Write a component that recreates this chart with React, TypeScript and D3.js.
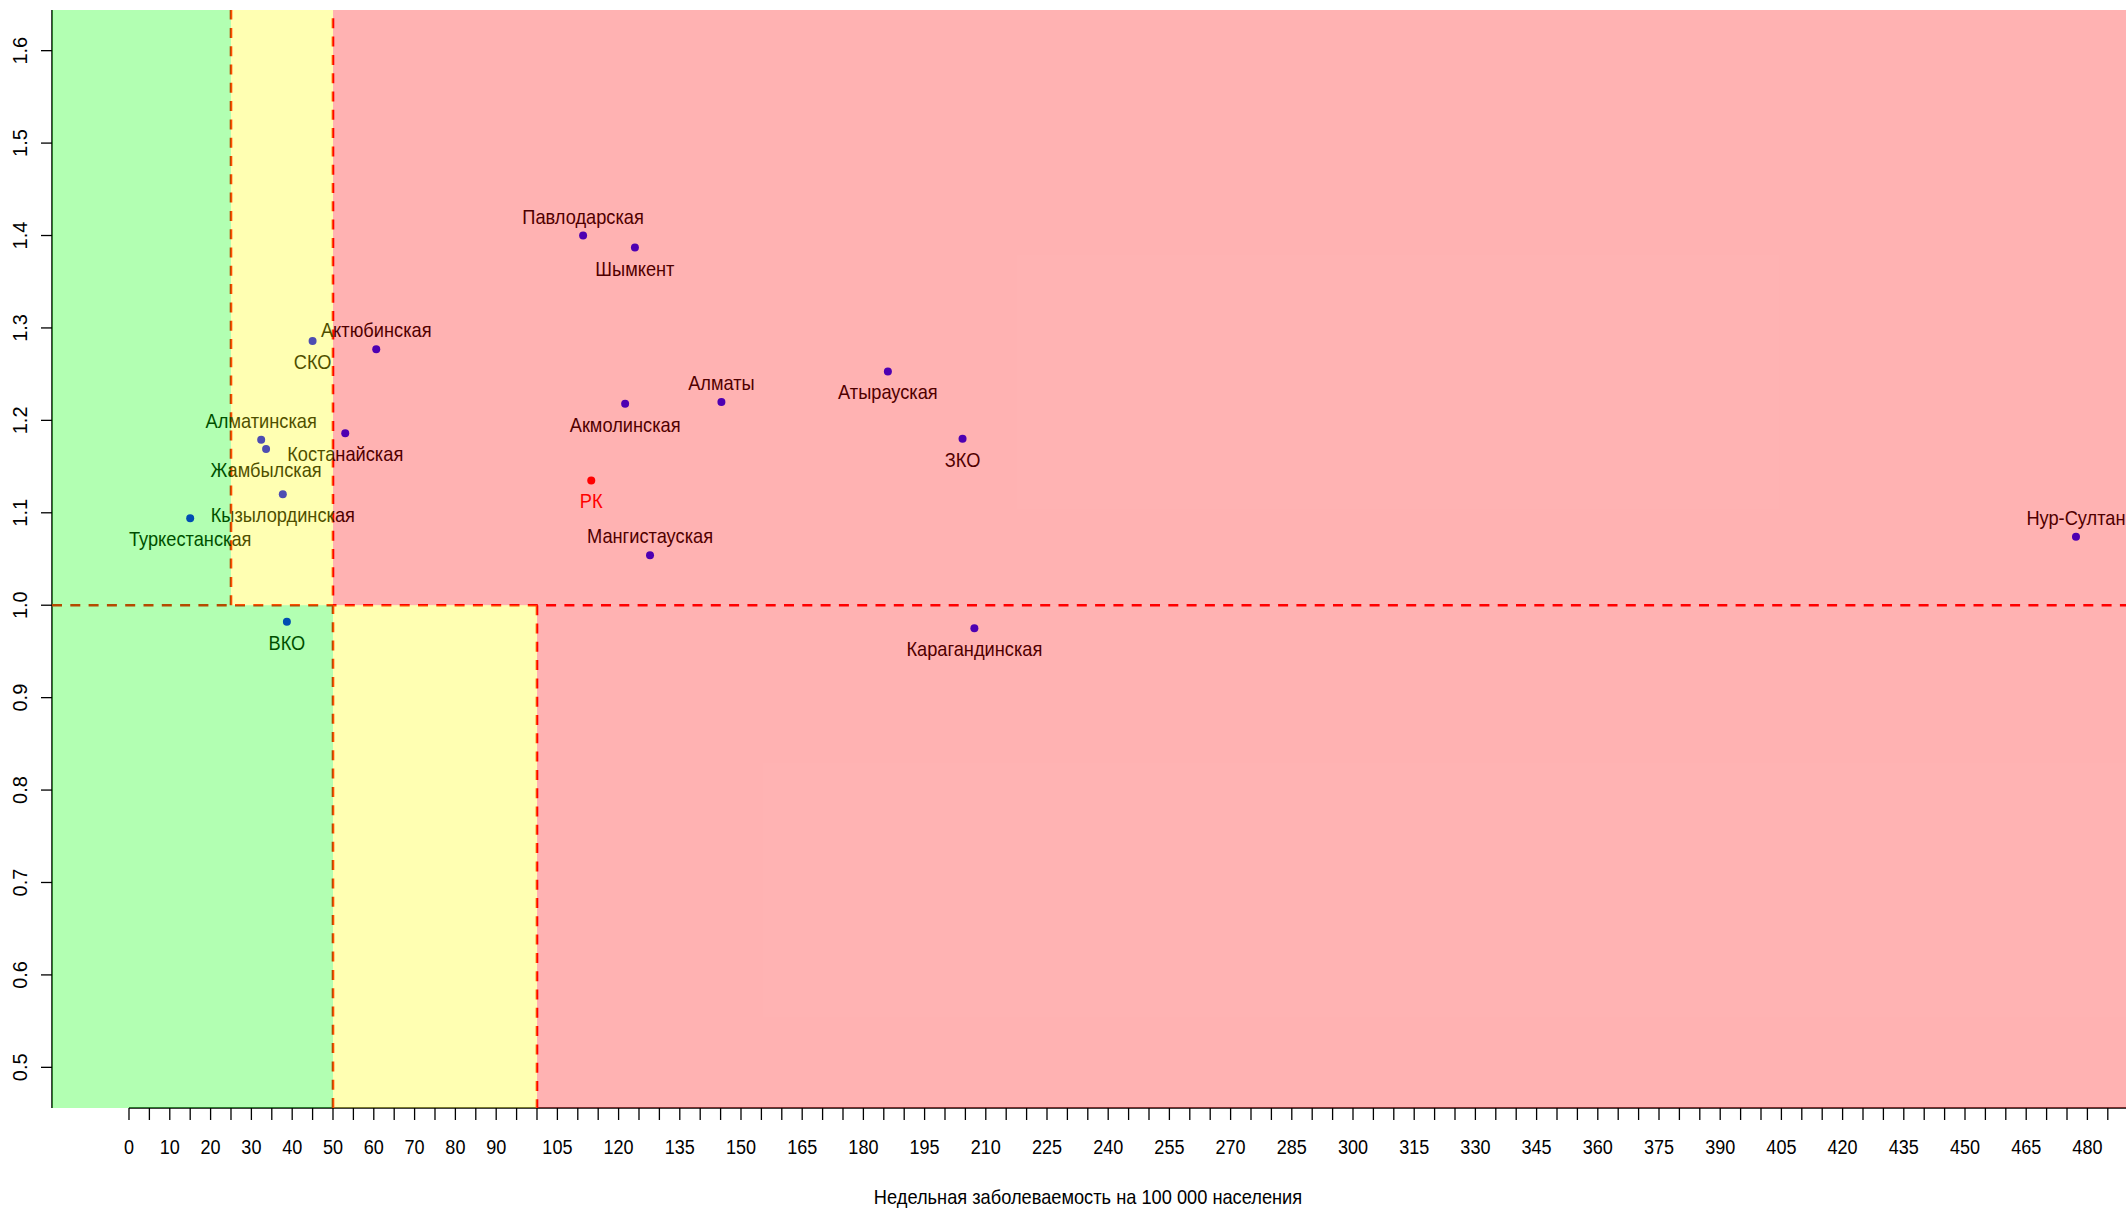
import React, { useEffect } from "react";
import * as d3 from "d3";

// ---- data ----
const REGIONS = [
  "Павлодарская", "Шымкент", "Актюбинская", "СКО", "Алматинская", "Жамбылская",
  "Костанайская", "Кызылординская", "Туркестанская", "ВКО", "Акмолинская", "Алматы",
  "Атырауская", "ЗКО", "РК", "Мангистауская", "Карагандинская", "Нур-Султан",
];
const INCIDENCE = [
  111.3, 124.0, 60.6, 45.0, 32.4, 33.6,
  53.0, 37.7, 15.0, 38.7, 121.6, 145.2,
  186.0, 204.3, 113.3, 127.7, 207.2, 477.2,
];
const RT = [
  1.400, 1.387, 1.277, 1.286, 1.179, 1.169,
  1.186, 1.120, 1.094, 0.982, 1.218, 1.220,
  1.253, 1.180, 1.135, 1.054, 0.975, 1.074,
];
// label placement: 3 = above, 1 = below
const LABEL_POS = [3, 1, 3, 1, 3, 1, 1, 1, 1, 1, 1, 3, 1, 1, 1, 3, 1, 3];
const HIGHLIGHT = "РК";

const RT_THRESHOLD = 1;
const UPPER_BOUNDS = [25, 50]; // green | yellow | red when Rt > 1
const LOWER_BOUNDS = [50, 100]; // green | yellow | red when Rt < 1

const X_TICK_LABELS = [0, 10, 20, 30, 40, 50, 60, 70, 80, 90, 105, 120, 135, 150, 165, 180, 195, 210, 225, 240, 255, 270, 285, 300, 315, 330, 345, 360, 375, 390, 405, 420, 435, 450, 465, 480];
const X_TICK_STEP = 5;
const X_TICK_MAX = 490;
const Y_TICKS = [0.5, 0.6, 0.7, 0.8, 0.9, 1.0, 1.1, 1.2, 1.3, 1.4, 1.5, 1.6];
const X_TITLE = "Недельная заболеваемость на 100 000 населения";

// ---- layout ----
const W = 2126;
const H = 1211;
const LEFT = 52;
const RIGHT = 2126;
const TOP = 10;
const BOTTOM = 1108;
const SX = 0.89;
const FONT = "'Liberation Sans', Arial, sans-serif";

export default function App() {
  useEffect(() => {
    document.body.style.margin = "0";
    document.body.style.overflow = "hidden";
  }, []);

  const x = d3.scaleLinear().domain([-18.87, 489.46]).range([LEFT, RIGHT]);
  const y = d3.scaleLinear().domain([0.456, 1.644]).range([BOTTOM, TOP]);
  const [xMin, xMax] = x.domain();
  const [yMin, yMax] = y.domain();

  const xTicks = d3.range(0, X_TICK_MAX + 1, X_TICK_STEP);

  const zones = [
    { x0: xMin, x1: UPPER_BOUNDS[0], y0: RT_THRESHOLD, y1: yMax, c: "rgb(0,255,0)" },
    { x0: UPPER_BOUNDS[0], x1: UPPER_BOUNDS[1], y0: RT_THRESHOLD, y1: yMax, c: "rgb(255,255,0)" },
    { x0: UPPER_BOUNDS[1], x1: xMax, y0: RT_THRESHOLD, y1: yMax, c: "rgb(255,0,0)" },
    { x0: xMin, x1: LOWER_BOUNDS[0], y0: yMin, y1: RT_THRESHOLD, c: "rgb(0,255,0)" },
    { x0: LOWER_BOUNDS[0], x1: LOWER_BOUNDS[1], y0: yMin, y1: RT_THRESHOLD, c: "rgb(255,255,0)" },
    { x0: LOWER_BOUNDS[1], x1: xMax, y0: yMin, y1: RT_THRESHOLD, c: "rgb(255,0,0)" },
  ];

  const dashed = [
    { x1: x(xMin), x2: x(xMax), y1: y(RT_THRESHOLD), y2: y(RT_THRESHOLD) },
    { x1: x(UPPER_BOUNDS[0]), x2: x(UPPER_BOUNDS[0]), y1: y(RT_THRESHOLD), y2: y(yMax) },
    { x1: x(UPPER_BOUNDS[1]), x2: x(UPPER_BOUNDS[1]), y1: y(yMin), y2: y(yMax) },
    { x1: x(LOWER_BOUNDS[1]), x2: x(LOWER_BOUNDS[1]), y1: y(RT_THRESHOLD), y2: y(yMin) },
  ];

  return (
    <svg width={W} height={H} style={{ position: "absolute", left: 0, top: 0, background: "#fff" }} fontFamily={FONT}>
      <defs>
        <clipPath id="plot">
          <rect x={LEFT} y={TOP} width={RIGHT - LEFT} height={BOTTOM - TOP} />
        </clipPath>
      </defs>

      {/* axes lines */}
      <line x1={LEFT} x2={LEFT} y1={TOP} y2={BOTTOM} stroke="#000" strokeWidth={1.5} />
      <line x1={x(0)} x2={x(X_TICK_MAX)} y1={BOTTOM} y2={BOTTOM} stroke="#000" strokeWidth={1.5} />

      {/* x ticks */}
      {xTicks.map((t) => (
        <line key={"xt" + t} x1={x(t)} x2={x(t)} y1={BOTTOM} y2={BOTTOM + 12} stroke="#000" strokeWidth={1.3} />
      ))}
      {X_TICK_LABELS.map((t) => (
        <text key={"xl" + t} transform={`translate(${x(t)},${1153.5}) scale(0.88,1)`} textAnchor="middle" fontSize={20.5} fill="#000">
          {t}
        </text>
      ))}

      {/* y ticks */}
      {Y_TICKS.map((t) => (
        <g key={"yt" + t}>
          <line x1={LEFT - 11} x2={LEFT} y1={y(t)} y2={y(t)} stroke="#000" strokeWidth={1.3} />
          <text transform={`translate(27,${y(t)}) rotate(-90)`} textAnchor="middle" fontSize={20} fill="#000">
            {t.toFixed(1)}
          </text>
        </g>
      ))}

      <text transform={`translate(${(LEFT + RIGHT) / 2 - 1},1203.5) scale(${SX},1)`} textAnchor="middle" fontSize={20.5} fill="#000">
        {X_TITLE}
      </text>

      <g clipPath="url(#plot)">
        {/* threshold lines */}
        {dashed.map((d, i) => (
          <line key={"d" + i} {...d} stroke="#ff0000" strokeWidth={2.6} strokeDasharray="10 8.3" />
        ))}

        {/* points */}
        {REGIONS.map((r, i) => (
          <circle key={"p" + r} cx={x(INCIDENCE[i])} cy={y(RT[i])} r={4} fill={r === HIGHLIGHT ? "#ff0000" : "#0000ff"} />
        ))}

        {/* labels */}
        {REGIONS.map((r, i) => {
          const px = x(INCIDENCE[i]);
          const py = y(RT[i]) + (LABEL_POS[i] === 3 ? -12 : 28);
          return (
            <text key={"l" + r} transform={`translate(${px},${py}) scale(${SX},1)`} textAnchor="middle" fontSize={20.5} fill={r === HIGHLIGHT ? "#ff0000" : "#000"}>
              {r}
            </text>
          );
        })}

        {/* translucent zones on top */}
        {zones.map((z, i) => (
          <rect
            key={"z" + i}
            x={x(z.x0)}
            y={y(z.y1)}
            width={x(z.x1) - x(z.x0)}
            height={y(z.y0) - y(z.y1)}
            fill={z.c}
            fillOpacity={0.3}
          />
        ))}
      </g>
    </svg>
  );
}
